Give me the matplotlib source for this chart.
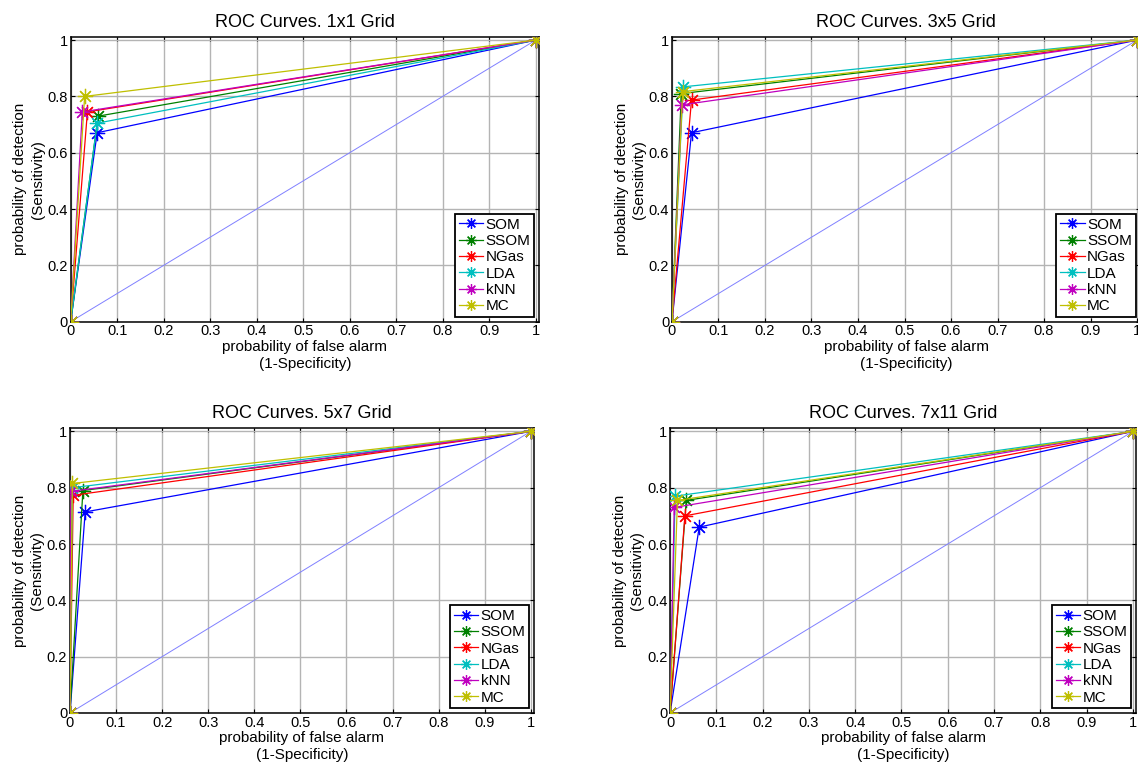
import matplotlib.pyplot as plt

plt.rcParams["font.family"] = ["Liberation Sans", "DejaVu Sans"]

methods = ["SOM", "SSOM", "NGas", "LDA", "kNN", "MC"]
colors = ["#0000ff", "#008000", "#ff0000", "#00bfbf", "#bf00bf", "#bfbf00"]

titles = ["ROC Curves. 1x1 Grid", "ROC Curves. 3x5 Grid",
          "ROC Curves. 5x7 Grid", "ROC Curves. 7x11 Grid"]

# false alarm rate (1-specificity) and detection rate per method, per grid
fpr_1x1 = [0.057, 0.059, 0.036, 0.057, 0.025, 0.030]
tpr_1x1 = [0.671, 0.730, 0.745, 0.705, 0.745, 0.800]

fpr_3x5 = [0.042, 0.020, 0.042, 0.024, 0.021, 0.023]
tpr_3x5 = [0.671, 0.810, 0.787, 0.834, 0.770, 0.817]

fpr_5x7 = [0.033, 0.028, 0.007, 0.005, 0.002, 0.005]
tpr_5x7 = [0.714, 0.790, 0.773, 0.800, 0.787, 0.815]

fpr_7x11 = [0.063, 0.035, 0.032, 0.011, 0.009, 0.016]
tpr_7x11 = [0.660, 0.755, 0.700, 0.770, 0.730, 0.755]

panels = [(fpr_1x1, tpr_1x1), (fpr_3x5, tpr_3x5),
          (fpr_5x7, tpr_5x7), (fpr_7x11, tpr_7x11)]

# axes rectangles in figure fractions (left, bottom, width, height)
rects = [(0.0621, 0.5795, 0.4115, 0.3725),
         (0.5905, 0.5795, 0.4115, 0.3725),
         (0.0615, 0.0680, 0.4077, 0.3725),
         (0.5888, 0.0680, 0.4095, 0.3725)]

ASTER = (8, 2, 0)

fig = plt.figure(figsize=(11.38, 7.65), dpi=100)

for rect, title, (fpr, tpr) in zip(rects, titles, panels):
    ax = fig.add_axes(rect)
    ax.plot([0, 1], [0, 1], color="#8080ff", lw=0.7, zorder=2)
    for m, c, f, t in zip(methods, colors, fpr, tpr):
        ax.plot([0, f, 1], [0, t, 1], color=c, lw=0.9, marker=ASTER,
                markersize=11, markeredgewidth=0.9, zorder=3, label=m)

    ax.set_xlim(0, 1.007)
    ax.set_ylim(0, 1.012)
    xt = [i / 10 for i in range(11)]
    yt = [i / 5 for i in range(6)]
    ax.set_xticks(xt)
    ax.set_xticklabels(["0"] + [f"{v:.1f}" for v in xt[1:-1]] + ["1"])
    ax.set_yticks(yt)
    ax.set_yticklabels(["0"] + [f"{v:.1f}" for v in yt[1:-1]] + ["1"])
    ax.tick_params(direction="in", top=True, right=True, length=3,
                   width=0.8, labelsize=10.5, pad=2)
    ax.grid(True, color="#b4b4b4", lw=1.0, zorder=0)
    ax.set_axisbelow(True)
    for s in ax.spines.values():
        s.set_linewidth(1.1)
        s.set_color("black")

    ax.set_title(title, fontsize=13, pad=7)
    ax.set_xlabel("probability of false alarm\n(1-Specificity)", fontsize=11,
                  labelpad=1, linespacing=1.3)
    ax.set_ylabel("probability of detection\n(Sensitivity)", fontsize=11,
                  labelpad=2, linespacing=1.3)

    leg = ax.legend(loc="lower right", fontsize=11, handlelength=1.6,
                    handletextpad=0.15, labelspacing=0.15, borderpad=0.25,
                    borderaxespad=0.3, fancybox=False, framealpha=1,
                    edgecolor="black", markerscale=0.7)
    leg.get_frame().set_linewidth(1.3)

fig.savefig("out.png", dpi=100, facecolor="white")
